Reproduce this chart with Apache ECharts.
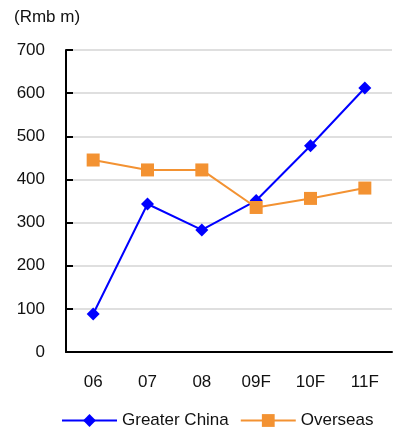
<!DOCTYPE html>
<html>
<head>
<meta charset="utf-8">
<script src="https://cdn.jsdelivr.net/npm/echarts@6/dist/echarts.min.js"></script>
<style>
  html, body { margin: 0; padding: 0; background: #fff; }
  #chart { width: 393px; height: 428px; }
</style>
</head>
<body>
<div id="chart"></div>
<script>
// Revenue by region, Rmb m (F = forecast)
const categories = ['06', '07', '08', '09F', '10F', '11F'];
const greaterChina = [88, 343, 283, 351, 478, 612];
const overseas = [445, 422, 422, 335, 356, 380];
const yTicks = { min: 0, max: 700, interval: 100 };

const font = 'Liberation Sans, Arial, sans-serif';
const fs = 17;
const chart = echarts.init(document.getElementById('chart'));

chart.setOption({
  animation: false,
  backgroundColor: '#fff',
  textStyle: { fontFamily: font, color: '#111' },
  graphic: [{
    type: 'text', left: 14, top: 9,
    style: { text: '(Rmb m)', font: fs + 'px ' + font, fill: '#111' }
  }],
  grid: { left: 66, right: 1, top: 50, bottom: 76 },
  legend: {
    top: 407, left: 56,
    itemWidth: 55, itemHeight: 16, itemGap: 11,
    textStyle: { fontSize: fs, fontFamily: font, color: '#111' },
    data: ['Greater China', 'Overseas']
  },
  xAxis: {
    type: 'category',
    data: categories,
    boundaryGap: true,
    axisLine: { lineStyle: { color: '#000', width: 2 } },
    axisTick: { inside: true, length: 7, lineStyle: { color: '#000', width: 2 } },
    axisLabel: { fontSize: fs, color: '#111', margin: 22, fontFamily: font }
  },
  yAxis: {
    type: 'value',
    min: yTicks.min, max: yTicks.max, interval: yTicks.interval,
    axisLine: { show: true, lineStyle: { color: '#000', width: 2 } },
    axisTick: { show: true, inside: true, length: 7, lineStyle: { color: '#000', width: 2 } },
    axisLabel: { fontSize: fs, color: '#111', margin: 21, fontFamily: font },
    splitLine: { lineStyle: { color: '#d4d4d4', width: 1.5 } }
  },
  series: [
    {
      name: 'Greater China', type: 'line', data: greaterChina,
      symbol: 'diamond', symbolSize: 13,
      lineStyle: { color: '#0000ff', width: 2 },
      itemStyle: { color: '#0000ff' }
    },
    {
      name: 'Overseas', type: 'line', data: overseas,
      symbol: 'rect', symbolSize: 13,
      lineStyle: { color: '#f39232', width: 2 },
      itemStyle: { color: '#f39232' }
    }
  ]
});
</script>
</body>
</html>
